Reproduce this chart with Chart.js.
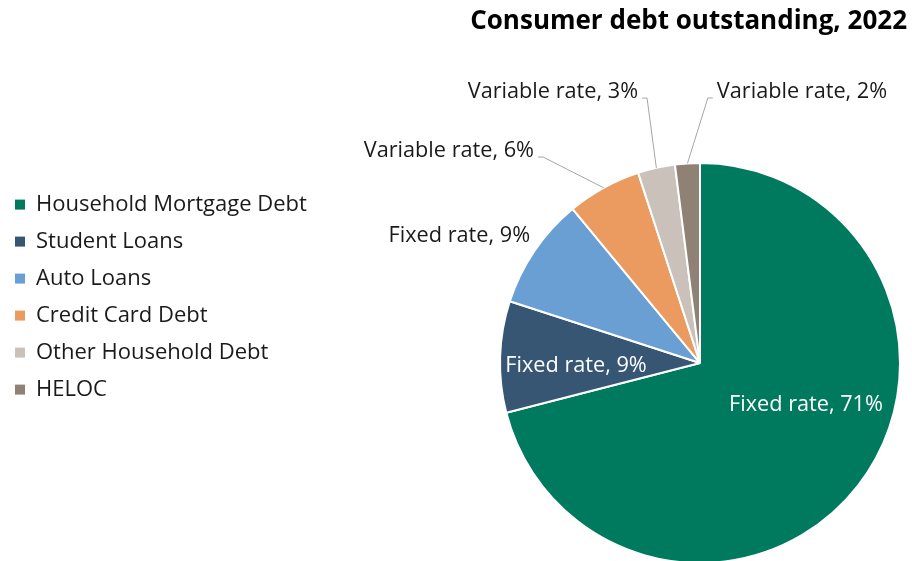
<!DOCTYPE html>
<html>
<head>
<meta charset="utf-8">
<script src="https://cdn.jsdelivr.net/npm/chart.js@4/dist/chart.umd.min.js"></script>
<style>
  html, body { margin: 0; padding: 0; background: #fff; overflow: hidden; }
  #wrap { position: relative; width: 912px; height: 563px; }
</style>
</head>
<body>
<div id="wrap"><canvas id="debtPie"></canvas></div>
<script>
const categories = ['Household Mortgage Debt', 'Student Loans', 'Auto Loans', 'Credit Card Debt', 'Other Household Debt', 'HELOC'];
const shares = [71, 9, 9, 6, 3, 2];
const rateTypes = ['Fixed rate', 'Fixed rate', 'Fixed rate', 'Variable rate', 'Variable rate', 'Variable rate'];

const sliceColors = ['#007a5e', '#375674', '#6a9fd3', '#ec9b60', '#c9c1ba', '#8f8275'];
const FONT = '"Open Sans", "Noto Sans", sans-serif';
const TEXT_DARK = '#1a1a1a';

// where each label sits: r = fraction of radius, turn = degrees off the slice middle
const labelSpots = [
  { r: 0.57, turn: -16.2, align: 'center', inside: true },
  { r: 0.62, turn: -3.2, align: 'center', inside: true },
  { r: 1.061, turn: 2.6, align: 'right' },
  { r: 1.295, turn: -8.5, align: 'right', leader: true },
  { r: 1.351, turn: 1.3, align: 'right', leader: true },
  { r: 1.326, turn: 5.3, align: 'left', leader: true }
];

// wide left column for the legend so the pie lands on the right
const legendColumn = {
  id: 'legendColumn',
  beforeInit(chart) {
    const fit = chart.legend.fit;
    chart.legend.fit = function () {
      fit.bind(chart.legend)();
      this.width = 493;
    };
  }
};

const sliceLabels = {
  id: 'sliceLabels',
  afterDatasetsDraw(chart) {
    const ctx = chart.ctx;
    const meta = chart.getDatasetMeta(0);
    ctx.save();
    ctx.font = '21.7px ' + FONT;
    ctx.textBaseline = 'middle';
    meta.data.forEach((arc, i) => {
      const p = arc.getProps(['x', 'y', 'startAngle', 'endAngle', 'outerRadius'], true);
      const spot = labelSpots[i];
      const mid = (p.startAngle + p.endAngle) / 2;
      const a = mid + spot.turn * Math.PI / 180;
      const px = p.x + Math.cos(a) * p.outerRadius * spot.r;
      const py = p.y + Math.sin(a) * p.outerRadius * spot.r;
      const text = rateTypes[i] + ', ' + shares[i] + '%';
      ctx.textAlign = spot.align;
      if (spot.leader) {
        const dir = spot.align === 'right' ? -1 : 1;
        ctx.strokeStyle = '#a6a6a6';
        ctx.lineWidth = 1;
        ctx.beginPath();
        ctx.moveTo(p.x + Math.cos(mid) * p.outerRadius, p.y + Math.sin(mid) * p.outerRadius);
        ctx.lineTo(px, py);
        ctx.lineTo(px + dir * 5, py);
        ctx.stroke();
        ctx.fillStyle = TEXT_DARK;
        ctx.fillText(text, px + dir * 9, py - 6);
      } else {
        ctx.fillStyle = spot.inside ? '#ffffff' : TEXT_DARK;
        ctx.fillText(text, px, py);
      }
    });
    ctx.restore();
  }
};

new Chart('debtPie', {
  type: 'pie',
  data: {
    labels: categories,
    datasets: [{
      data: shares,
      backgroundColor: sliceColors,
      borderColor: '#ffffff',
      borderWidth: 2
    }]
  },
  options: {
    responsive: true,
    maintainAspectRatio: false,
    animation: false,
    radius: 200,
    layout: { padding: { right: 5 } },
    plugins: {
      title: {
        display: true,
        text: 'Consumer debt outstanding, 2022',
        align: 'end',
        color: '#000',
        font: { family: FONT, size: 26, weight: 'bold' },
        padding: { top: 5.9, bottom: 126 }
      },
      legend: {
        position: 'left',
        align: 'start',
        fullSize: false,
        title: { display: true, text: '', font: { size: 10, lineHeight: 1 }, padding: { top: 5.5, bottom: 0 } },
        labels: {
          boxWidth: 10,
          boxHeight: 10,
          padding: 15,
          color: TEXT_DARK,
          font: { family: FONT, size: 22 },
          // solid swatches, without the white slice border
          generateLabels(chart) {
            return Chart.controllers.pie.overrides.plugins.legend.labels.generateLabels(chart)
              .map(item => Object.assign(item, { lineWidth: 0 }));
          }
        }
      },
      tooltip: { enabled: false }
    }
  },
  plugins: [legendColumn, sliceLabels]
});
</script>
</body>
</html>
